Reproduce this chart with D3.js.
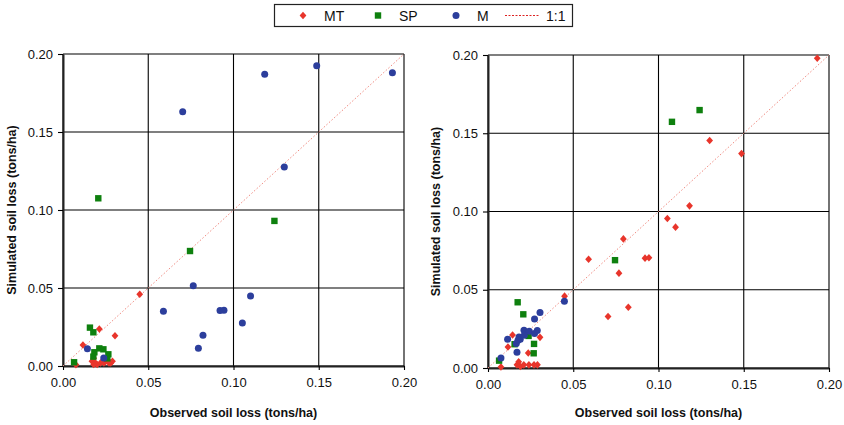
<!DOCTYPE html>
<html>
<head>
<meta charset="utf-8">
<script src="https://cdn.jsdelivr.net/npm/d3@7"></script>
<style>
  body { margin: 0; background: white; }
  svg { font-family: "Liberation Sans", Arial, sans-serif; }
</style>
</head>
<body>
<svg id="canvas" width="844" height="425"></svg>
<script>
// ---------------------------------------------------------------- //
// Data (observed, simulated) in tons/ha

var seriesNames = ['MT', 'SP', 'M', '1:1'];
var tickValues = [0, 0.05, 0.10, 0.15, 0.20];
var axisRange = [0, 0.20];

var leftMT = [[0.045,0.046],[0.0213,0.0237],[0.0305,0.0194],[0.0117,0.0135],[0.0076,0.0008],
  [0.017,0.003],[0.018,0.005],[0.019,0.002],[0.020,0.001],[0.022,0.002],[0.024,0.002],
  [0.025,0.003],[0.027,0.002],[0.028,0.002],[0.029,0.003],[0.018,0.001]];
var leftSP = [[0.0065,0.0024],[0.0158,0.0246],[0.0178,0.0216],[0.0184,0.0088],[0.0178,0.006],
  [0.0213,0.0113],[0.0237,0.0107],[0.0266,0.0075],[0.026,0.0049],[0.0207,0.1075],
  [0.0745,0.0737],[0.124,0.093]];
var leftM = [[0.0702,0.163],[0.1183,0.187],[0.1488,0.1925],[0.1932,0.188],[0.1298,0.1276],
  [0.0764,0.0515],[0.110,0.0449],[0.0589,0.0351],[0.0921,0.0355],[0.0944,0.0357],
  [0.1052,0.0276],[0.0821,0.0197],[0.0794,0.0113],[0.0143,0.0111],[0.0239,0.0051]];

var rightMT = [[0.1931,0.1979],[0.130,0.1454],[0.1487,0.137],[0.1182,0.1036],[0.1052,0.0955],
  [0.110,0.090],[0.0794,0.0825],[0.059,0.0695],[0.0921,0.0702],[0.0944,0.0704],[0.0768,0.0606],
  [0.0823,0.0388],[0.0704,0.0329],[0.0449,0.0459],[0.0144,0.0211],[0.0117,0.0134],
  [0.0305,0.0196],[0.0236,0.0096],[0.0076,0.0006],
  [0.017,0.002],[0.018,0.004],[0.019,0.001],[0.021,0.002],[0.024,0.002],[0.027,0.002],[0.029,0.002]];
var rightSP = [[0.1079,0.1573],[0.1241,0.1648],[0.0745,0.0689],[0.0174,0.042],[0.0207,0.0343],
  [0.0238,0.0205],[0.027,0.0154],[0.0268,0.0094],[0.0156,0.0152],[0.0065,0.0047]];
var rightM = [[0.0448,0.0427],[0.0305,0.0354],[0.0273,0.0313],[0.0211,0.0241],[0.0242,0.0235],
  [0.0289,0.0239],[0.0273,0.022],[0.0182,0.0198],[0.0189,0.0184],[0.0176,0.0177],
  [0.0166,0.0156],[0.0115,0.0184],[0.017,0.010],[0.0076,0.0064],[0.0213,0.0209]];

// ---------------------------------------------------------------- //
// small helpers in place of d3-selection-multi

d3.selection.prototype.attrs = function(o){ for(var k in o) this.attr(k, o[k]); return this; };
d3.selection.prototype.styles = function(o){ for(var k in o) this.style(k, o[k]); return this; };

// ---------------------------------------------------------------- //
// Styles

var colors = { MT: '#e8352b', SP: '#0e800e', M: '#2c3e9c', line: '#f08a80' };
var svg = d3.select('#canvas');

function drawMarker(g, type, x, y){
  if(type == 'MT'){
    g.append('path').attrs({ d: 'M0,-3.8L3.4,0L0,3.8L-3.4,0Z', transform: 'translate(' +x+ ',' +y+ ')' })
      .styles({ fill: colors.MT });
  } else if(type == 'SP'){
    g.append('rect').attrs({ x: x-3.2, y: y-3.2, width: 6.4, height: 6.4 }).styles({ fill: colors.SP });
  } else {
    g.append('circle').attrs({ cx: x, cy: y, r: 3.5 }).styles({ fill: colors.M });
  }
}

// ---------------------------------------------------------------- //
// Panels

function createPanel(box, MT, SP, M){
  var x = d3.scaleLinear().domain(axisRange).range([box.x0, box.x1]);
  var y = d3.scaleLinear().domain(axisRange).range([box.y0, box.y1]);
  var g = svg.append('g');

  // grid
  tickValues.forEach(function(t){
    g.append('line').attrs({ x1: x(t), x2: x(t), y1: y(0), y2: y(0.2) }).styles({ stroke: '#000', 'stroke-width': 1.1 });
    g.append('line').attrs({ x1: x(0), x2: x(0.2), y1: y(t), y2: y(t) }).styles({ stroke: '#000', 'stroke-width': 1.1 });
  });

  // axes
  var xAxis = d3.axisBottom(x).tickValues(tickValues).tickFormat(d3.format('.2f')).tickSizeInner(4).tickSizeOuter(0).tickPadding(8);
  var yAxis = d3.axisLeft(y).tickValues(tickValues).tickFormat(d3.format('.2f')).tickSizeInner(5).tickSizeOuter(0).tickPadding(5);
  var gx = g.append('g').attr('transform', 'translate(0,' + y(0) + ')').call(xAxis);
  var gy = g.append('g').attr('transform', 'translate(' + x(0) + ',0)').call(yAxis);
  [gx, gy].forEach(function(a){
    a.select('.domain').styles({ stroke: '#222', 'stroke-width': 2 });
    a.selectAll('.tick line').styles({ stroke: '#000', 'stroke-width': 1.1 });
    a.selectAll('.tick text').styles({ 'font-size': '13px', fill: '#111', 'font-family': '"Liberation Sans", Arial, sans-serif' });
  });

  // 1:1 line
  g.append('line').attrs({ x1: x(0), y1: y(0), x2: x(0.2), y2: y(0.2) })
    .styles({ stroke: colors.line, 'stroke-width': 1, 'stroke-dasharray': '1.5,2' });

  // points
  var pts = g.append('g');
  MT.forEach(function(d){ drawMarker(pts, 'MT', x(d[0]), y(d[1])); });
  SP.forEach(function(d){ drawMarker(pts, 'SP', x(d[0]), y(d[1])); });
  M.forEach(function(d){ drawMarker(pts, 'M', x(d[0]), y(d[1])); });

  // titles
  g.append('text').attrs({ x: (box.x0 + box.x1)/2, y: 417, 'text-anchor': 'middle' })
    .styles({ 'font-size': '12.5px', 'font-weight': 'bold', fill: '#111' }).text('Observed soil loss (tons/ha)');
  g.append('text').attrs({ transform: 'translate(' + box.ty + ',' + (box.y0 + box.y1)/2 + ') rotate(-90)', 'text-anchor': 'middle' })
    .styles({ 'font-size': '12.5px', 'font-weight': 'bold', fill: '#111' }).text('Simulated soil loss (tons/ha)');
}

createPanel({ x0: 63, x1: 404, y0: 366, y1: 54, ty: 16 }, leftMT, leftSP, leftM);
createPanel({ x0: 488, x1: 829, y0: 368, y1: 55, ty: 440 }, rightMT, rightSP, rightM);

// ---------------------------------------------------------------- //
// Legend

var legend = svg.append('g');
legend.append('rect').attrs({ x: 274.5, y: 4.5, width: 298, height: 22 }).styles({ fill: 'white', stroke: '#222', 'stroke-width': 1.2 });
var legendX = [303, 378, 456, 505];
seriesNames.forEach(function(name, i){
  if(name == '1:1'){
    legend.append('line').attrs({ x1: legendX[i], x2: legendX[i] + 34, y1: 15.5, y2: 15.5 })
      .styles({ stroke: '#d22', 'stroke-width': 1, 'stroke-dasharray': '2,1.5' });
    legend.append('text').attrs({ x: legendX[i] + 41, y: 20.5 }).styles({ 'font-size': '14px', fill: '#111' }).text(name);
  } else {
    drawMarker(legend, name, legendX[i], 15.5);
    legend.append('text').attrs({ x: legendX[i] + 21, y: 20.5 }).styles({ 'font-size': '14px', fill: '#111' }).text(name);
  }
});
</script>
</body>
</html>
